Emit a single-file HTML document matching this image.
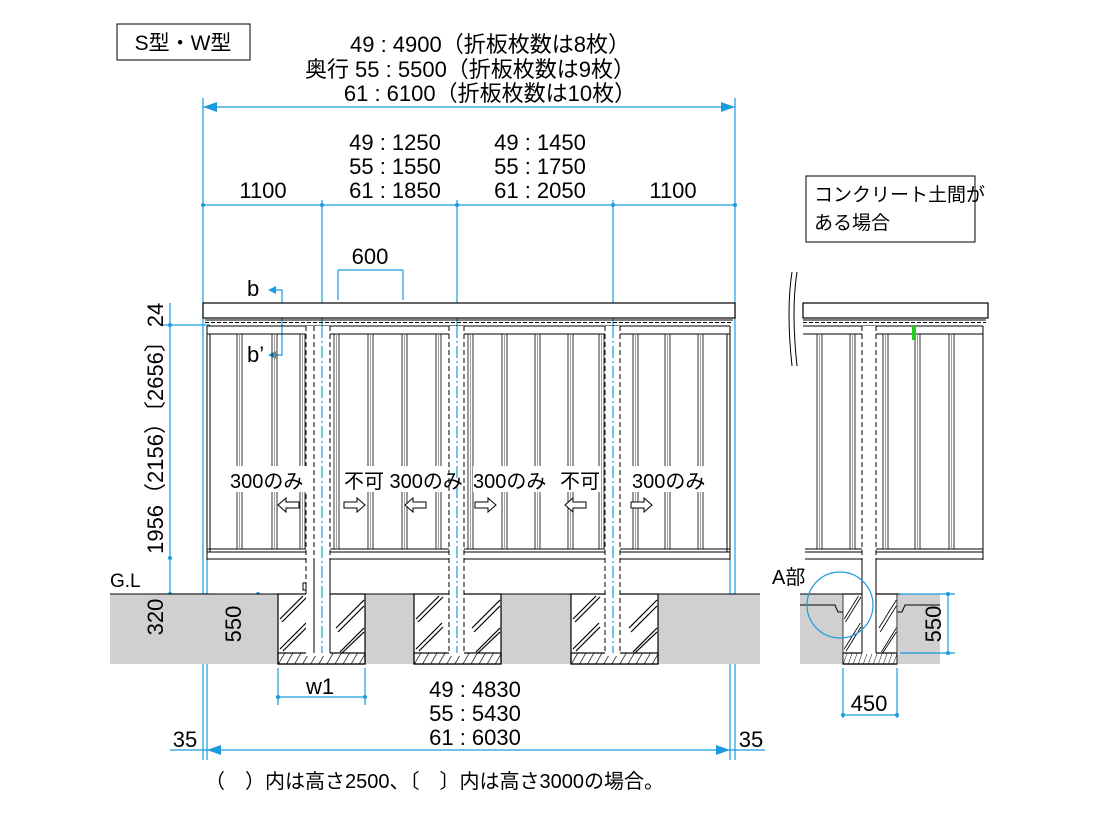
<!DOCTYPE html>
<html><head><meta charset="utf-8"><style>
html,body{margin:0;padding:0;background:#fff;}
svg{display:block;font-family:"Liberation Sans","Noto Sans CJK JP",sans-serif;}
</style></head><body>
<svg width="1096" height="822" viewBox="0 0 1096 822" xmlns="http://www.w3.org/2000/svg">
<defs>
<pattern id="hat" width="7" height="7" patternUnits="userSpaceOnUse" patternTransform="rotate(30)"><line x1="0" y1="0" x2="0" y2="7" stroke="#000" stroke-width="1.4"/></pattern>
<g id="rib"><line x1="-2" y1="0" x2="-2" y2="215" stroke="#000" stroke-width="0.8"/><line x1="0.5" y1="0" x2="0.5" y2="215" stroke="#888" stroke-width="0.8"/><line x1="3" y1="0" x2="3" y2="215" stroke="#000" stroke-width="0.8"/></g>
<g id="foot">
<rect x="0" y="0" width="87" height="70" fill="#fff" stroke="#000" stroke-width="1.2"/>
<g stroke="#000" stroke-width="1.2">
<line x1="2" y1="25" x2="25" y2="2"/><line x1="4" y1="28" x2="29" y2="3"/><line x1="2" y1="55" x2="28" y2="29"/><line x1="5" y1="57" x2="29" y2="33"/>
<line x1="58" y1="34" x2="86" y2="6"/><line x1="60" y1="38" x2="86" y2="12"/><line x1="62" y1="58" x2="86" y2="34"/><line x1="64" y1="59" x2="86" y2="38"/>
</g>
<rect x="0" y="59" width="87" height="11" fill="url(#hat)" stroke="#000" stroke-width="1.2"/>
</g>
</defs>

<rect x="117" y="24" width="133" height="36" fill="#fff" stroke="#000" stroke-width="1"/>
<text x="183" y="50" font-size="21" text-anchor="middle">S型・W型</text>

<g font-size="22" text-anchor="middle">
<text x="490" y="52">49 : 4900（折板枚数は8枚）</text>
<text x="470" y="77">奥行 55 : 5500（折板枚数は9枚）</text>
<text x="490" y="101">61 : 6100（折板枚数は10枚）</text>
<text x="395" y="150">49 : 1250</text><text x="395" y="174">55 : 1550</text><text x="395" y="198">61 : 1850</text>
<text x="540" y="150">49 : 1450</text><text x="540" y="174">55 : 1750</text><text x="540" y="198">61 : 2050</text>
<text x="263" y="198">1100</text><text x="673" y="198">1100</text>
<text x="370" y="264">600</text>
<text x="475" y="697">49 : 4830</text><text x="475" y="721">55 : 5430</text><text x="475" y="745">61 : 6030</text>
<text x="185" y="747">35</text><text x="751" y="747">35</text>
<text x="320" y="694">w1</text>
<text x="869" y="711">450</text>
</g>

<rect x="806" y="176" width="169" height="66" fill="#fff" stroke="#000" stroke-width="1"/>
<text x="814" y="201" font-size="19">コンクリート土間が</text>
<text x="814" y="229" font-size="19">ある場合</text>

<g stroke="#1a9be0" stroke-width="1.2" fill="none">
<line x1="203" y1="107" x2="735" y2="107"/>
<line x1="203" y1="205" x2="735" y2="205"/>
<line x1="203" y1="98" x2="203" y2="760"/><line x1="735" y1="98" x2="735" y2="760"/>
<line x1="207" y1="560" x2="207" y2="760"/>
<line x1="730" y1="560" x2="730" y2="760"/>
<line x1="322" y1="200" x2="322" y2="660"/>
<line x1="457" y1="200" x2="457" y2="660"/>
<line x1="613" y1="200" x2="613" y2="660"/>
<line x1="338" y1="270" x2="403" y2="270"/><line x1="338" y1="270" x2="338" y2="300"/><line x1="403" y1="270" x2="403" y2="300"/>
<line x1="170" y1="303" x2="170" y2="638"/>
<line x1="162" y1="325" x2="210" y2="325"/>
<line x1="162" y1="594" x2="210" y2="594"/>
<line x1="258" y1="594" x2="258" y2="653"/>
<line x1="250" y1="653" x2="278" y2="653"/>
<line x1="278" y1="668" x2="278" y2="705"/><line x1="365" y1="668" x2="365" y2="705"/>
<line x1="278" y1="697" x2="365" y2="697"/>
<line x1="170" y1="750" x2="765" y2="750"/>
<polyline points="270,290 282,290 282,355 270,355"/>
<line x1="843" y1="668" x2="843" y2="718"/><line x1="897" y1="668" x2="897" y2="718"/>
<line x1="843" y1="715" x2="897" y2="715"/>
</g>
<g fill="#1a9be0">
<polygon points="203,107 217,102 217,112"/><polygon points="735,107 721,102 721,112"/>
<polygon points="207,750 221,745 221,755"/><polygon points="730,750 716,745 716,755"/>
<polygon points="268,290 276,286 276,294"/><polygon points="268,355 276,351 276,359"/>
<circle cx="203" cy="205" r="2"/><circle cx="322" cy="205" r="2"/><circle cx="457" cy="205" r="2"/><circle cx="613" cy="205" r="2"/><circle cx="735" cy="205" r="2"/>
<circle cx="170" cy="325" r="2"/><circle cx="170" cy="558" r="2"/><circle cx="170" cy="594" r="2"/><circle cx="258" cy="594" r="2"/><circle cx="258" cy="653" r="2"/>
<circle cx="278" cy="697" r="2"/><circle cx="365" cy="697" r="2"/>
<circle cx="843" cy="715" r="2"/><circle cx="897" cy="715" r="2"/>
</g>
<text x="247" y="296" font-size="22">b</text>
<text x="247" y="362" font-size="22">b’</text>

<rect x="110" y="594" width="650" height="70" fill="#d0d0d0"/>
<line x1="110" y1="594" x2="760" y2="594" stroke="#000" stroke-width="1"/>
<use href="#foot" x="278" y="594"/>
<use href="#foot" x="414" y="594"/>
<use href="#foot" x="571" y="594"/>
<text x="110" y="587" font-size="19">G.L</text>

<rect x="203" y="303" width="532" height="15" fill="#fff" stroke="#000" stroke-width="1.2"/>
<g stroke="#000" stroke-width="1" fill="none">
<line x1="205" y1="320" x2="733" y2="320"/>
<line x1="205" y1="322.5" x2="733" y2="322.5" stroke-dasharray="4,2"/>
<line x1="207" y1="326" x2="730" y2="326"/>
<line x1="207" y1="334" x2="730" y2="334"/>
<line x1="207" y1="326" x2="207" y2="560"/><line x1="210" y1="334" x2="210" y2="552"/>
<line x1="730" y1="326" x2="730" y2="560"/><line x1="727" y1="334" x2="727" y2="552"/>
<line x1="207" y1="549" x2="730" y2="549"/>
<line x1="207" y1="552" x2="730" y2="552"/>
<line x1="207" y1="559" x2="730" y2="559"/>
</g>
<g>
<use href="#rib" x="239" y="334"/><use href="#rib" x="274" y="334"/><use href="#rib" x="302" y="334"/><use href="#rib" x="336" y="334"/>
<use href="#rib" x="370" y="334"/><use href="#rib" x="404" y="334"/><use href="#rib" x="438" y="334"/><use href="#rib" x="470" y="334"/>
<use href="#rib" x="504" y="334"/><use href="#rib" x="537" y="334"/><use href="#rib" x="570" y="334"/><use href="#rib" x="601" y="334"/>
<use href="#rib" x="635" y="334"/><use href="#rib" x="667" y="334"/><use href="#rib" x="700" y="334"/>
</g>
<g stroke="#000" stroke-width="1" fill="none">
<rect x="306" y="326" width="24" height="330" fill="#fff" stroke="none"/>
<line x1="306" y1="326" x2="306" y2="594" stroke-dasharray="5,3"/>
<line x1="314" y1="326" x2="314" y2="594" stroke-dasharray="5,3"/>
<line x1="330" y1="326" x2="330" y2="653" stroke-dasharray="5,3"/>
<line x1="314" y1="560" x2="314" y2="653"/><line x1="330" y1="560" x2="330" y2="653"/>
<rect x="449" y="326" width="15" height="330" fill="#fff" stroke="none"/>
<line x1="449" y1="326" x2="449" y2="653" stroke-dasharray="5,3"/>
<line x1="464" y1="326" x2="464" y2="653" stroke-dasharray="5,3"/>
<rect x="605" y="326" width="15" height="330" fill="#fff" stroke="none"/>
<line x1="605" y1="326" x2="605" y2="653" stroke-dasharray="5,3"/>
<line x1="620" y1="326" x2="620" y2="653" stroke-dasharray="5,3"/>
<rect x="303" y="583" width="3" height="7"/>
</g>
<g stroke="#1a9be0" stroke-width="1.2" stroke-dasharray="12,3,2,3">
<line x1="322" y1="326" x2="322" y2="653"/><line x1="457" y1="326" x2="457" y2="653"/><line x1="613" y1="326" x2="613" y2="653"/>
</g>

<g font-size="20">
<rect x="230" y="466" width="82" height="26" fill="#fff"/><text x="230" y="488">300のみ</text>
<rect x="344" y="466" width="102" height="26" fill="#fff"/><text x="344" y="488">不可 300のみ</text>
<rect x="473" y="466" width="80" height="26" fill="#fff"/><text x="473" y="488">300のみ</text>
<rect x="560" y="466" width="40" height="26" fill="#fff"/><text x="560" y="488">不可</text>
<rect x="632" y="466" width="82" height="26" fill="#fff"/><text x="632" y="488">300のみ</text>
</g>
<g stroke="#000" stroke-width="1" fill="#fff">
<polygon points="278,505 286,498 286,502 299,502 299,508 286,508 286,512"/>
<polygon points="365,505 357,498 357,502 344,502 344,508 357,508 357,512"/>
<polygon points="405,505 413,498 413,502 426,502 426,508 413,508 413,512"/>
<polygon points="496,505 488,498 488,502 475,502 475,508 488,508 488,512"/>
<polygon points="565,505 573,498 573,502 586,502 586,508 573,508 573,512"/>
<polygon points="652,505 644,498 644,502 631,502 631,508 644,508 644,512"/>
</g>

<g font-size="22" text-anchor="middle">
<text transform="translate(163,315) rotate(-90)">24</text>
<text transform="translate(163,442) rotate(-90)">1956（2156）〔2656〕</text>
<text transform="translate(163,617) rotate(-90)">320</text>
<text transform="translate(241,624) rotate(-90)">550</text>
</g>

<!-- right view -->
<path d="M792,272 Q786,310 792,366 M797,272 Q791,310 797,366" stroke="#000" stroke-width="1" fill="none"/>
<rect x="800" y="594" width="140" height="70" fill="#d0d0d0"/>
<g stroke="#000" stroke-width="1" fill="none">
<line x1="800" y1="594" x2="940" y2="594"/>
<polyline points="800,605 835,605 838,612 843,612"/>
<polyline points="940,605 905,605 902,612 897,612"/>
</g>
<g transform="translate(843,594) scale(0.62,1)"><use href="#foot" x="0" y="0"/></g>
<rect x="803" y="303" width="185" height="15" fill="#fff" stroke="#000" stroke-width="1.2"/>
<g stroke="#000" stroke-width="1" fill="none">
<line x1="803" y1="320" x2="986" y2="320"/>
<line x1="803" y1="322.5" x2="986" y2="322.5" stroke-dasharray="4,2"/>
<line x1="803" y1="326" x2="983" y2="326"/>
<line x1="803" y1="334" x2="983" y2="334"/>
<line x1="983" y1="326" x2="983" y2="560"/>
<line x1="805" y1="549" x2="983" y2="549"/>
<line x1="805" y1="552" x2="983" y2="552"/>
<line x1="805" y1="559" x2="983" y2="559"/>
</g>
<use href="#rib" x="819" y="334"/><use href="#rib" x="852" y="334"/><use href="#rib" x="885" y="334"/><use href="#rib" x="917" y="334"/><use href="#rib" x="951" y="334"/>
<rect x="862" y="326" width="14" height="328" fill="#fff"/>
<g stroke="#000" stroke-width="1">
<line x1="862" y1="326" x2="862" y2="560" stroke-dasharray="5,3"/><line x1="876" y1="326" x2="876" y2="560" stroke-dasharray="5,3"/>
<line x1="862" y1="560" x2="862" y2="653"/><line x1="876" y1="560" x2="876" y2="653"/>
</g>
<rect x="912" y="326" width="4" height="14" fill="#22cc22"/>
<g stroke="#1a9be0" stroke-width="1.2" fill="none">
<circle cx="840" cy="605" r="33"/>
<line x1="948" y1="594" x2="948" y2="653"/>
<line x1="900" y1="594" x2="955" y2="594"/><line x1="900" y1="653" x2="955" y2="653"/>
</g>
<circle cx="948" cy="594" r="2" fill="#1a9be0"/><circle cx="948" cy="653" r="2" fill="#1a9be0"/>
<text transform="translate(941,624) rotate(-90)" font-size="22" text-anchor="middle">550</text>
<text x="772" y="584" font-size="20">A部</text>

<text x="205" y="788" font-size="20">（　）内は高さ2500、〔　〕内は高さ3000の場合。</text>
</svg>
</body></html>
